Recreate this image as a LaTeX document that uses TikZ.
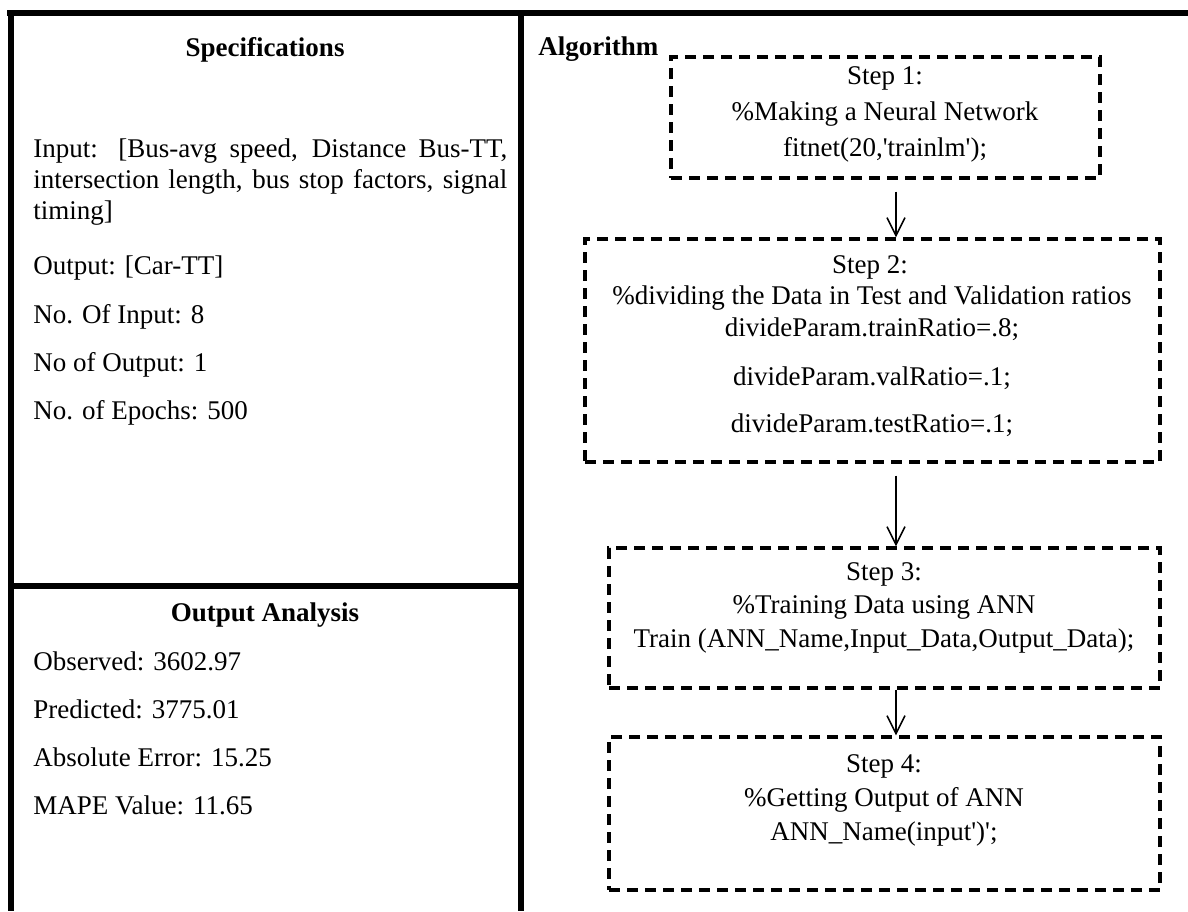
\documentclass[tikz,border=0pt]{standalone}
\usepackage{fontspec}
\setmainfont{Liberation Serif}
\usetikzlibrary{arrows.meta}
\begin{document}
\begin{tikzpicture}[x=0.5pt,y=-0.5pt,
  frame/.style={line width=3pt},
  stepbox/.style={draw, line width=1.6pt, dash pattern=on 5.5pt off 3.5pt, inner sep=0pt},
  txt/.style={inner sep=0pt, font=\fontsize{13.5pt}{15.5pt}\selectfont},
  hd/.style={inner sep=0pt, font=\fontsize{13.5pt}{15.5pt}\selectfont\bfseries},
  arr/.style={line width=0.8pt, -{Straight Barb[length=9pt,width=9pt,line width=0.8pt]}}
]
\useasboundingbox (0,0) rectangle (1188,911);
% frame
\draw[frame] (10.5,10) -- (10.5,911);
\draw[frame] (7,13) -- (1188,13);
\draw[frame] (521,10) -- (521,911);
\draw[frame] (10,586) -- (521,586);

% left column
\node[hd, anchor=base] (spec) at (265,56) {Specifications};
\node[txt, anchor=base west, text width=237pt, align=justify] (inp) at (33,157)
  {Input: [Bus-avg speed, Distance Bus-TT,\linebreak intersection length, bus stop factors, signal\linebreak timing]};
\node[txt, anchor=base west] (outp) at (33,274) {Output: [Car-TT]};
\node[txt, anchor=base west] (nin) at (33,323) {No. Of Input: 8};
\node[txt, anchor=base west] (nout) at (33,371) {No of Output: 1};
\node[txt, anchor=base west] (nep) at (33,419) {No. of Epochs: 500};

\node[hd, anchor=base] (oa) at (265,621) {Output Analysis};
\node[txt, anchor=base west] (obs) at (33,670) {Observed: 3602.97};
\node[txt, anchor=base west] (pred) at (33,718) {Predicted: 3775.01};
\node[txt, anchor=base west] (abse) at (33,766) {Absolute Error: 15.25};
\node[txt, anchor=base west] (mape) at (33,814) {MAPE Value: 11.65};

% right column
\node[hd, anchor=base west] (alg) at (538,55) {Algorithm};

\node[stepbox, minimum width=214.5pt, minimum height=60.5pt] (b1) at (885.5,117.5) {};
\node[stepbox, minimum width=287.5pt, minimum height=111.5pt] (b2) at (872.5,350.5) {};
\node[stepbox, minimum width=275.5pt, minimum height=70pt] (b3) at (884.5,618) {};
\node[stepbox, minimum width=275.5pt, minimum height=76.5pt] (b4) at (884.5,813.5) {};

\node[txt, anchor=base] (s1a) at (885,84) {Step 1:};
\node[txt, anchor=base] (s1b) at (885,120) {\%Making a Neural Network};
\node[txt, anchor=base] (s1c) at (885,156) {fitnet(20,\textquotesingle trainlm\textquotesingle);};

\node[txt, anchor=base] (s2a) at (870,273) {Step 2:};
\node[txt, anchor=base] (s2b) at (872,304) {\%dividing the Data in Test and Validation ratios};
\node[txt, anchor=base] (s2c) at (872,336) {divideParam.trainRatio=.8;};
\node[txt, anchor=base] (s2d) at (872,385) {divideParam.valRatio=.1;};
\node[txt, anchor=base] (s2e) at (872,432) {divideParam.testRatio=.1;};

\node[txt, anchor=base] (s3a) at (884,580) {Step 3:};
\node[txt, anchor=base] (s3b) at (884,613) {\%Training Data using ANN};
\node[txt, anchor=base] (s3c) at (884,647) {Train (ANN\_Name,Input\_Data,Output\_Data);};

\node[txt, anchor=base] (s4a) at (884,772) {Step 4:};
\node[txt, anchor=base] (s4b) at (884,806) {\%Getting Output of ANN};
\node[txt, anchor=base] (s4c) at (884,840) {ANN\_Name(input\textquotesingle)\textquotesingle;};

% arrows
\coordinate (ax) at (896,0);
\draw[arr, shorten <=6pt] (b1.south -| ax) -- (b2.north -| ax);
\draw[arr, shorten <=6pt] (b2.south -| ax) -- (b3.north -| ax);
\draw[arr] (b3.south -| ax) -- (b4.north -| ax);
\end{tikzpicture}
\end{document}
